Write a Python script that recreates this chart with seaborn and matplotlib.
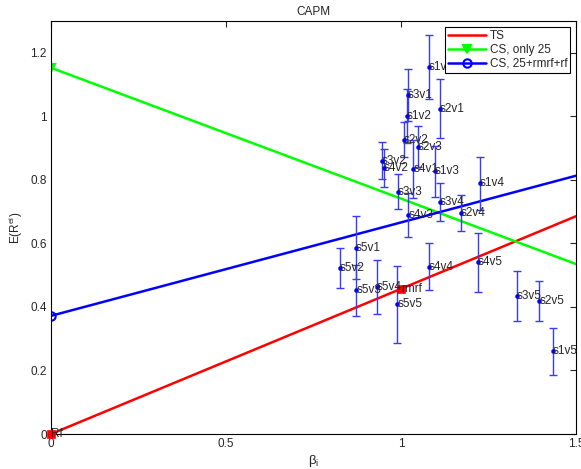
import numpy as np
import pandas as pd
import matplotlib
matplotlib.use("Agg")
import matplotlib.pyplot as plt
import seaborn as sns

# ---- data ----
names = ["s1v1", "s1v2", "s1v3", "s1v4", "s1v5",
         "s2v1", "s2v2", "s2v3", "s2v4", "s2v5",
         "s3v1", "s3v2", "s3v3", "s3v4", "s3v5",
         "s4v1", "s4v2", "s4v3", "s4v4", "s4v5",
         "s5v1", "s5v2", "s5v3", "s5v4", "s5v5"]
betas = [1.080, 1.016, 1.097, 1.226, 1.434,
         1.111, 1.008, 1.048, 1.171, 1.395,
         1.020, 0.945, 0.990, 1.111, 1.331,
         1.035, 0.950, 1.021, 1.080, 1.219,
         0.870, 0.826, 0.872, 0.931, 0.989]
means = [1.155, 1.000, 0.827, 0.789, 0.260,
         1.024, 0.926, 0.905, 0.695, 0.419,
         1.067, 0.860, 0.763, 0.729, 0.434,
         0.834, 0.836, 0.689, 0.527, 0.541,
         0.587, 0.522, 0.452, 0.462, 0.408]
errs = [0.100, 0.085, 0.080, 0.084, 0.075,
        0.092, 0.055, 0.065, 0.056, 0.062,
        0.083, 0.058, 0.055, 0.060, 0.078,
        0.090, 0.060, 0.070, 0.073, 0.093,
        0.100, 0.063, 0.080, 0.085, 0.120]

factor_names = ["Rf", "rmrf"]
factor_betas = [0.0, 1.0]
factor_means = [0.0, 0.457]

line_labels = ["TS", "CS, only 25", "CS, 25+rmrf+rf"]
line_intercepts = [0.0, 1.153, 0.372]
line_slopes = [0.457, -0.412, 0.294]
line_colors = ["#ff0000", "#00ff00", "#0000ff"]
line_markers = [None, "v", "o"]

x_ticks = [0, 0.5, 1, 1.5]
x_ticklabels = ["0", "0.5", "1", "1.5"]
y_ticks = [0, 0.2, 0.4, 0.6, 0.8, 1.0, 1.2]
y_ticklabels = ["0", "0.2", "0.4", "0.6", "0.8", "1", "1.2"]

# ---- plot ----
sns.set_style("white")
plt.rcParams["font.family"] = ["Liberation Sans", "DejaVu Sans"]
plt.rcParams["mathtext.fontset"] = "custom"
plt.rcParams["mathtext.rm"] = "Liberation Sans"
plt.rcParams["mathtext.it"] = "Liberation Sans:italic"
plt.rcParams["font.size"] = 8

fig = plt.figure(figsize=(5.81, 4.69), dpi=100)
ax = fig.add_axes([0.0878, 0.0746, 0.9036, 0.8806])

xs = np.array([0.0, 1.5])
for lab, b0, b1, c, m in zip(line_labels, line_intercepts, line_slopes, line_colors, line_markers):
    df = pd.DataFrame({"x": xs, "y": b0 + b1 * xs})
    sns.lineplot(data=df, x="x", y="y", ax=ax, color=c, lw=1.8, label=lab,
                 marker=m, markevery=[0], markersize=6,
                 markerfacecolor="none" if m == "o" else c,
                 markeredgecolor=c, markeredgewidth=1.5)

ax.errorbar(betas, means, yerr=errs, fmt="none", ecolor="#3a3aff", elinewidth=1.0,
            capsize=3, capthick=1.0, zorder=3)
sns.scatterplot(x=betas, y=means, ax=ax, color="#0000ff", s=9, marker="o",
                edgecolor="#0000ff", zorder=4, legend=False)
for n, bx, my in zip(names, betas, means):
    ax.text(bx, my, n, fontsize=8.5, ha="left", va="center", zorder=5)

sns.scatterplot(x=factor_betas, y=factor_means, ax=ax, color="#ff0000", marker="s",
                s=36, edgecolor="#ff0000", zorder=4, legend=False, clip_on=False)
for n, bx, my in zip(factor_names, factor_betas, factor_means):
    ax.text(bx, my, n, fontsize=8.5, ha="left", va="center", zorder=5)

ax.set_xlim(0, 1.5)
ax.set_ylim(0, 1.3)
ax.set_xticks(x_ticks)
ax.set_xticklabels(x_ticklabels)
ax.set_yticks(y_ticks)
ax.set_yticklabels(y_ticklabels)
ax.tick_params(direction="in", length=4, width=0.8, top=True, right=True,
               labelsize=8.5, pad=3)
for s in ax.spines.values():
    s.set_color("black")
    s.set_linewidth(0.8)
ax.set_title("CAPM", fontsize=8.5, pad=4)
ax.set_xlabel(r"$\mathregular{\beta_i}$", fontsize=9.5, labelpad=2)
ax.set_ylabel(r"$\mathregular{E(R^{ei})}$", fontsize=8.5, labelpad=4)

leg = ax.legend(loc="upper right", bbox_to_anchor=(0.989, 0.985), fontsize=8.5,
                frameon=True, fancybox=False, edgecolor="black", framealpha=1,
                borderaxespad=0.0, handlelength=3.2, handletextpad=0.3,
                labelspacing=0.15, borderpad=0.25)
leg.get_frame().set_linewidth(0.8)

fig.savefig("out.png", dpi=100)
